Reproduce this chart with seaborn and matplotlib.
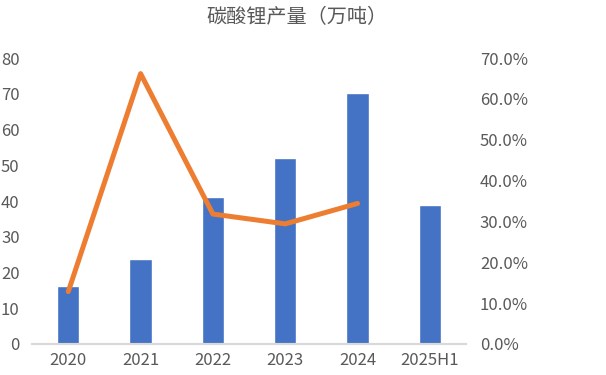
import matplotlib
matplotlib.use("Agg")
import matplotlib.pyplot as plt
import seaborn as sns
import pandas as pd
from matplotlib.ticker import FuncFormatter, MultipleLocator

categories = ["2020", "2021", "2022", "2023", "2024", "2025H1"]
production = [16.2, 23.8, 41.1, 52.0, 70.3, 38.9]
growth_years = ["2020", "2021", "2022", "2023", "2024"]
growth = [12.8, 66.2, 31.8, 29.4, 34.4]
title = "碳酸锂产量（万吨）"

sns.set_theme(style="white")
plt.rcParams['font.family'] = ['Noto Sans CJK SC', 'DejaVu Sans']

fig = plt.figure(figsize=(6.06, 3.75), dpi=100)
ax = fig.add_axes([0.053, 0.083, 0.716, 0.762])

df = pd.DataFrame({"cat": categories, "val": production})
sns.barplot(data=df, x="cat", y="val", color="#4472C4", width=0.31, ax=ax,
            saturation=1, order=categories)
ax.set_ylim(0, 80)
ax.yaxis.set_major_locator(MultipleLocator(10))
ax.set_xlim(-0.5, len(categories) - 0.5)
ax.set_xlabel("")
ax.set_ylabel("")

ax2 = ax.twinx()
dfl = pd.DataFrame({"cat": growth_years, "g": growth})
sns.lineplot(data=dfl, x="cat", y="g", color="#ED7D31", linewidth=3.6, ax=ax2,
             sort=False)
ax2.set_ylim(0, 70)
ax2.yaxis.set_major_locator(MultipleLocator(10))
ax2.yaxis.set_major_formatter(FuncFormatter(lambda v, p: f"{v:.1f}%"))
ax2.set_ylabel("")
ax2.set_xlabel("")
ax.set_xlim(-0.5, len(categories) - 0.5)

for a in (ax, ax2):
    for s in ("top", "left", "right"):
        a.spines[s].set_visible(False)
    a.spines["bottom"].set_color("#D9D9D9")
    a.spines["bottom"].set_linewidth(1.5)
    a.tick_params(axis="both", length=0, colors="#595959", labelsize=12)
ax.tick_params(axis="y", pad=9)
ax.tick_params(axis="x", pad=6)
ax2.tick_params(axis="y", pad=10)

fig.text(0.49, 0.953, title, ha="center", va="center", fontsize=14.5,
         color="#595959")

fig.savefig("out.png", dpi=100)
